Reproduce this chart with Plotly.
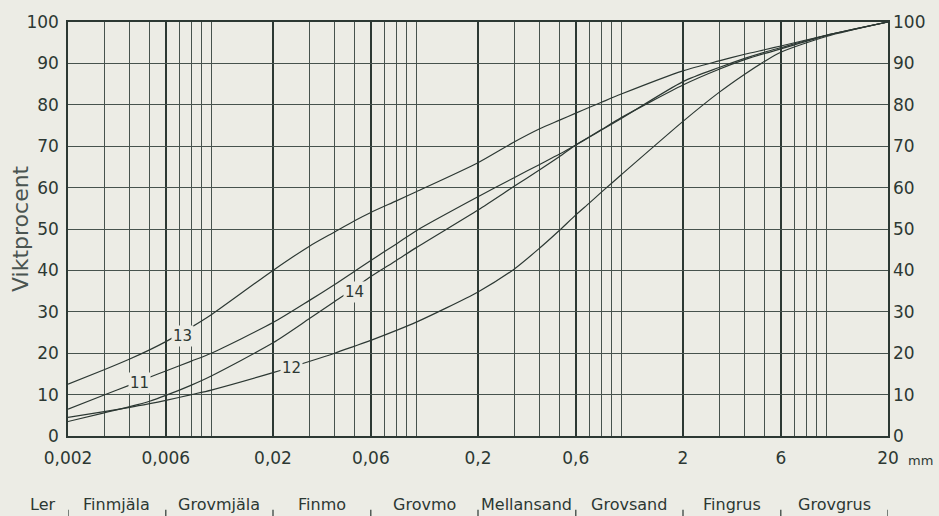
import math
import plotly.graph_objects as go

# ---- data -------------------------------------------------------------
diam = [0.002, 0.003, 0.004, 0.005, 0.006, 0.008, 0.01, 0.02, 0.03, 0.04, 0.05,
        0.06, 0.08, 0.1, 0.2, 0.3, 0.4, 0.5, 0.6, 0.7, 0.8, 1, 2, 3, 4, 5, 6, 10, 20]

curve_13 = [12.5, 16.0, 18.6, 20.8, 22.8, 26.3, 29.3, 40, 45.8, 49.3, 52.0,
            54.0, 56.8, 59.0, 66.0, 71.0, 74.2, 76.3, 78.0, 79.4, 80.6, 82.6, 88.2, 90.6, 92.2, 93.3, 94.2, 96.8, 100]
curve_11 = [6.5, 9.9, 12.3, 14.2, 15.7, 18.1, 20.0, 27.4, 32.7, 36.6, 39.8,
            42.4, 46.4, 49.6, 57.8, 62.4, 65.6, 68.1, 70.3, 72.2, 73.9, 76.7, 85.6, 89.0, 91.2, 92.7, 93.8, 96.8, 100]
curve_14 = [3.5, 5.6, 7.1, 8.4, 9.8, 12.3, 14.5, 22.5, 28.3, 32.5, 35.7,
            38.5, 42.4, 45.5, 54.6, 60.3, 64.3, 67.5, 70.3, 72.3, 74.0, 76.9, 84.8, 88.6, 90.9, 92.4, 93.5, 96.7, 100]
curve_12 = [4.5, 5.9, 6.9, 7.8, 8.6, 10.0, 11.1, 15.3, 18.0, 20.0, 21.7,
            23.1, 25.5, 27.5, 34.8, 40.3, 45.4, 49.7, 53.4, 56.3, 58.9, 63.1, 76.0, 83.0, 87.4, 90.5, 92.7, 96.5, 100]

curve_names = ["13", "11", "14", "12"]
label_pos_x = [0.00725, 0.00444, 0.05, 0.0246]
label_pos_y = [24.2, 12.9, 34.9, 16.4]

major_ticks = [0.002, 0.006, 0.02, 0.06, 0.2, 0.6, 2, 6, 20]
major_text = ["0,002", "0,006", "0,02", "0,06", "0,2", "0,6", "2", "6", "20"]
minor_ticks = [0.003, 0.004, 0.005, 0.007, 0.008, 0.009, 0.01,
               0.03, 0.04, 0.05, 0.07, 0.08, 0.09, 0.1,
               0.3, 0.4, 0.5, 0.7, 0.8, 0.9, 1,
               3, 4, 5, 7, 8, 9, 10]
y_ticks = [0, 10, 20, 30, 40, 50, 60, 70, 80, 90, 100]

fractions = ["Ler", "Finmjäla", "Grovmjäla", "Finmo", "Grovmo",
             "Mellansand", "Grovsand", "Fingrus", "Grovgrus"]
fraction_bounds = [0.002, 0.006, 0.02, 0.06, 0.2, 0.6, 2, 6, 20]

# ---- style ------------------------------------------------------------
BG = "#ecece5"
INK = "#2c3833"
FONT = "DejaVu Sans"
L, R, T, B = 68, 51, 22, 80
W, H = 939, 516
PW = W - L - R

fig = go.Figure()
for name, ys in zip(curve_names, [curve_13, curve_11, curve_14, curve_12]):
    fig.add_trace(go.Scatter(x=diam, y=ys, mode="lines", name=name,
                             line=dict(color=INK, width=1.2, shape="spline", smoothing=0.7),
                             hoverinfo="skip", showlegend=False))

# dummy trace so the right axis is drawn
fig.add_trace(go.Scatter(x=[20], y=[100], yaxis="y2", mode="markers",
                         marker=dict(size=0.1, opacity=0), hoverinfo="skip", showlegend=False))

# curve labels
for name, lx, ly in zip(curve_names, label_pos_x, label_pos_y):
    fig.add_annotation(x=math.log10(lx), y=ly, xref="x", yref="y", text=name,
                       showarrow=False, font=dict(family=FONT, size=15, color=INK),
                       bgcolor=BG, borderpad=1)

# fraction labels below the chart (paper coords so "Ler" left of the axis is kept)
lo, hi = math.log10(0.002), math.log10(20)
log_b = [math.log10(b) for b in fraction_bounds]
centers = [log_b[0] - 0.122] + [(log_b[i] + log_b[i + 1]) / 2 for i in range(len(log_b) - 1)]
for txt, cx in zip(fractions, centers):
    fig.add_annotation(x=(cx - lo) / (hi - lo), y=-0.166, xref="paper", yref="paper", text=txt,
                       xanchor="center", yanchor="middle", showarrow=False,
                       font=dict(family=FONT, size=16, color=INK))
for b in fraction_bounds:
    fig.add_shape(type="line", x0=b, x1=b, y0=-0.178, y1=-0.198, xref="x", yref="paper",
                  line=dict(color=INK, width=1.2))

# "mm" unit
fig.add_annotation(x=1.0, y=-0.058, xref="paper", yref="paper", xanchor="left", yanchor="middle",
                   xshift=18, text="mm", showarrow=False, font=dict(family=FONT, size=13, color=INK))

# y title
fig.add_annotation(x=(20 - L) / PW, y=0.5, xref="paper", yref="paper", xanchor="center", yanchor="middle",
                   text="Viktprocent", textangle=-90, showarrow=False,
                   font=dict(family=FONT, size=22, color="#4a5450"))

fig.update_layout(
    width=W, height=H,
    margin=dict(l=L, r=R, t=T, b=B),
    paper_bgcolor=BG, plot_bgcolor=BG,
    xaxis=dict(type="log", range=[lo, hi],
               tickmode="array", tickvals=major_ticks, ticktext=major_text,
               showgrid=True, gridcolor=INK, gridwidth=1.8,
               minor=dict(tickvals=minor_ticks, showgrid=True, gridcolor="#46524d", gridwidth=1),
               showline=True, linecolor=INK, linewidth=1.5, mirror=True,
               ticks="", ticklabelstandoff=6,
               tickfont=dict(family=FONT, size=17, color=INK), zeroline=False),
    yaxis=dict(range=[0, 100], tickmode="array", tickvals=y_ticks,
               showgrid=True, gridcolor="#46524d", gridwidth=1,
               showline=True, linecolor=INK, linewidth=1.5, mirror=True,
               ticks="", ticklabelstandoff=4,
               tickfont=dict(family=FONT, size=17, color=INK), zeroline=False),
    yaxis2=dict(range=[0, 100], overlaying="y", side="right", tickmode="array", tickvals=y_ticks,
                showgrid=False, ticks="", ticklabelstandoff=4, zeroline=False,
                tickfont=dict(family=FONT, size=17, color=INK)),
)

fig.write_html("out.html", config={"displayModeBar": False},
               post_script="document.body.style.margin='0';document.body.style.padding='0';"
                           "document.body.style.background='" + BG + "';")
